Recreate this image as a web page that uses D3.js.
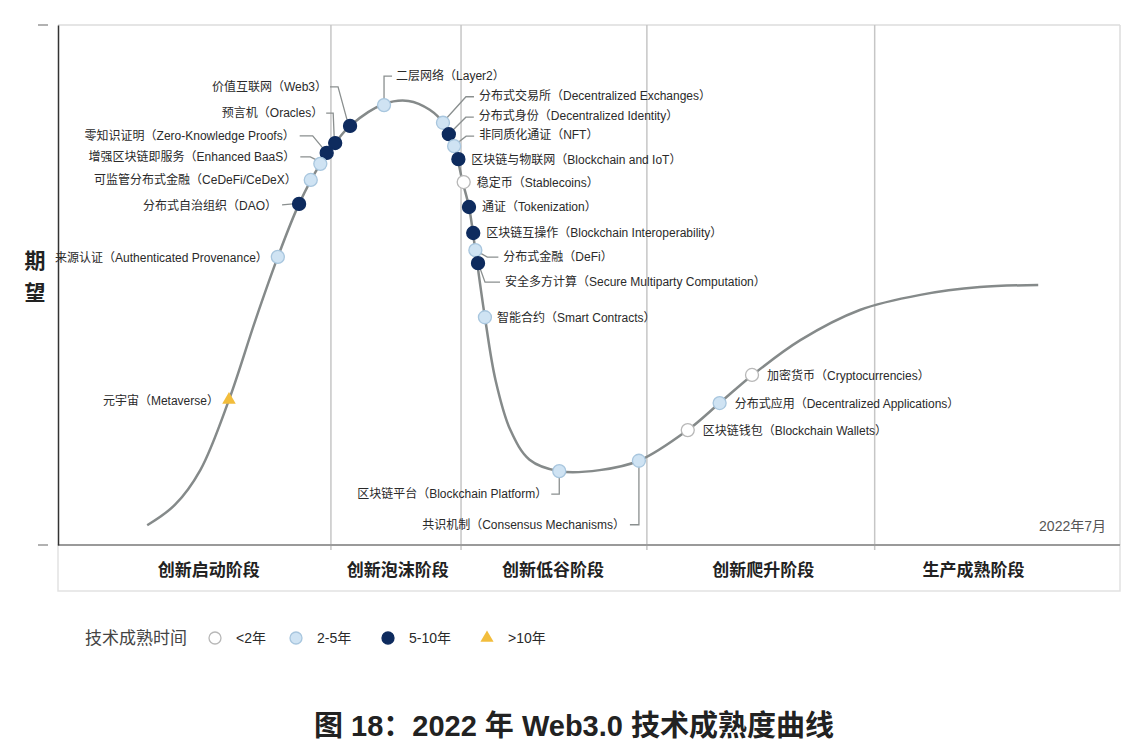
<!DOCTYPE html>
<html>
<head>
<meta charset="utf-8">
<script src="https://cdn.jsdelivr.net/npm/d3@7"></script>
<style>
  body { margin: 0; background: #fff; }
  text { font-family: "Liberation Sans", "Noto Sans CJK SC", sans-serif; }
</style>
</head>
<body>
<svg id="chart" width="1148" height="752"></svg>
<script>
// ---- data ----
const curveX = [8.4, 11.0, 13.4, 16.1, 18.6, 20.7, 22.7, 24.7, 26.1, 27.5, 30.7, 33.0, 35.0, 36.3, 37.3, 38.1, 38.7, 39.3, 40.2, 41.2, 42.6, 44.4, 47.2, 51.0, 54.7, 59.3, 62.3, 65.4, 69.9, 75.5, 81.2, 86.8, 92.3];
const curveY = [3.8, 7.7, 14.4, 27.9, 43.3, 55.4, 65.6, 73.3, 77.3, 80.6, 84.8, 85.4, 83.7, 81.1, 76.7, 69.8, 65.0, 56.7, 43.8, 31.7, 22.1, 16.4, 14.2, 14.4, 16.2, 22.1, 27.3, 32.7, 39.4, 45.2, 48.1, 49.6, 50.0];

const techNames = [
  "价值互联网（Web3）", "预言机（Oracles）", "零知识证明（Zero-Knowledge Proofs）",
  "增强区块链即服务（Enhanced BaaS）", "可监管分布式金融（CeDeFi/CeDeX）", "分布式自治组织（DAO）",
  "来源认证（Authenticated Provenance）", "元宇宙（Metaverse）", "二层网络（Layer2）",
  "分布式交易所（Decentralized Exchanges）", "分布式身份（Decentralized Identity）", "非同质化通证（NFT）",
  "区块链与物联网（Blockchain and IoT）", "稳定币（Stablecoins）", "通证（Tokenization）",
  "区块链互操作（Blockchain Interoperability）", "分布式金融（DeFi）", "安全多方计算（Secure Multiparty Computation）",
  "智能合约（Smart Contracts）", "区块链平台（Blockchain Platform）", "共识机制（Consensus Mechanisms）",
  "区块链钱包（Blockchain Wallets）", "分布式应用（Decentralized Applications）", "加密货币（Cryptocurrencies）"
];
const techX = [27.5, 26.1, 25.3, 24.7, 23.8, 22.7, 20.7, 16.1, 30.7, 36.25, 36.8, 37.3, 37.7, 38.2, 38.7, 39.1, 39.3, 39.55, 40.2, 47.2, 54.7, 59.3, 62.3, 65.35];
const techY = [80.6, 77.3, 75.4, 73.3, 70.2, 65.6, 55.4, 27.9, 84.6, 81.2, 79.0, 76.7, 74.2, 69.8, 65.0, 60.0, 56.7, 54.2, 43.8, 14.2, 16.2, 22.1, 27.3, 32.7];
// 0: <2年, 1: 2-5年, 2: 5-10年, 3: >10年
const techGroup = [2, 2, 2, 1, 1, 2, 1, 3, 1, 1, 2, 1, 2, 0, 2, 2, 1, 2, 1, 1, 1, 0, 1, 0];

const groupLabels = ["<2年", "2-5年", "5-10年", ">10年"];
const phaseNames = ["创新启动阶段", "创新泡沫阶段", "创新低谷阶段", "创新爬升阶段", "生产成熟阶段"];
const phaseBounds = [25.7, 37.95, 55.45, 76.9];
const phaseLabelX = [14.2, 32.0, 46.6, 66.4, 86.2];

// ---- label layout (pixel offsets from the marker) ----
const labelLayout = [
  { dx: -23, dy: -39, anchor: "end", leader: [[-3, -6], [-12, -39], [-20, -39]] },
  { dx: -12, dy: -30, anchor: "end", leader: [[-1, -6], [-2, -30], [-9, -30]] },
  { dx: -32, dy: -17, anchor: "end", leader: [[-4, -5], [-14, -17], [-27, -17]] },
  { dx: -25, dy: -7, anchor: "end", leader: [[-4, -4], [-10, -7], [-20, -7]] },
  { dx: -14, dy: 0, anchor: "end" },
  { dx: -22, dy: 2, anchor: "end", leader: [[-6, 0], [-17, 1]] },
  { dx: -10, dy: 1, anchor: "end" },
  { dx: -10, dy: 1, anchor: "end" },
  { dx: 12, dy: -29, anchor: "start", leader: [[0, -6], [0, -29], [8, -29]] },
  { dx: 36, dy: -27, anchor: "start", leader: [[4, -5], [23, -26], [31, -26]] },
  { dx: 30, dy: -18, anchor: "start", leader: [[4, -4], [17, -17], [25, -17]] },
  { dx: 25, dy: -11, anchor: "start", leader: [[3, -3], [12, -10], [20, -10]] },
  { dx: 13, dy: 1, anchor: "start" },
  { dx: 13, dy: 1, anchor: "start" },
  { dx: 13, dy: 0, anchor: "start" },
  { dx: 13, dy: 0, anchor: "start" },
  { dx: 28, dy: 7, anchor: "start", leader: [[5, 3], [12, 7], [23, 7]] },
  { dx: 27, dy: 19, anchor: "start", leader: [[2, 5], [7, 19], [22, 19]] },
  { dx: 12, dy: 1, anchor: "start" },
  { dx: -12, dy: 23, anchor: "end", leader: [[0, 6], [0, 23], [-8, 23]] },
  { dx: -14, dy: 64, anchor: "end", leader: [[0, 6], [0, 64], [-9, 64]] },
  { dx: 15, dy: 1, anchor: "start" },
  { dx: 15, dy: 1, anchor: "start" },
  { dx: 15, dy: 1, anchor: "start" }
];

const fills = ["#ffffff", "#cfe3f3", "#0e2b5e", "#f2bd3c"];
const strokes = ["#b8b8b8", "#a8c6de", "#0e2b5e", "#f2bd3c"];

const svg = d3.select("#chart");
const pLeft = 58, pRight = 1120, pTop = 25, pBottom = 545;

const x = d3.scaleLinear().domain([0, 100]).range([pLeft, pRight]);
const y = d3.scaleLinear().domain([0, 100]).range([pBottom, pTop]);

// --- frame ---
svg.append("rect")
  .attr("x", pLeft).attr("y", pBottom)
  .attr("width", pRight - pLeft).attr("height", 46)
  .attr("fill", "none").attr("stroke", "#e2e2e2").attr("stroke-width", 1.5);

svg.append("line")
  .attr("x1", pLeft).attr("x2", pRight).attr("y1", pTop).attr("y2", pTop)
  .attr("stroke", "#dcdcdc").attr("stroke-width", 1.5);
svg.append("line")
  .attr("x1", pRight).attr("x2", pRight).attr("y1", pTop).attr("y2", pBottom)
  .attr("stroke", "#dcdcdc").attr("stroke-width", 1.5);

// phase dividers
svg.append("g").selectAll("line")
  .data(phaseBounds)
  .join("line")
  .attr("x1", d => x(d)).attr("x2", d => x(d))
  .attr("y1", pTop).attr("y2", pBottom + 5)
  .attr("stroke", "#c6c6c6").attr("stroke-width", 1.5);

// bottom axis line
svg.append("line")
  .attr("x1", pLeft).attr("x2", pRight).attr("y1", pBottom).attr("y2", pBottom)
  .attr("stroke", "#9a9a9a").attr("stroke-width", 2);

// left axis
const yAxis = d3.axisLeft(y).tickValues([0, 100]).tickSize(0).tickFormat("");
svg.append("g")
  .attr("transform", `translate(${pLeft},0)`)
  .call(yAxis)
  .call(g => g.select(".domain").attr("stroke", "#333").attr("stroke-width", 1.5));
svg.append("g").selectAll("line")
  .data([0, 100])
  .join("line")
  .attr("x1", 38).attr("x2", 48)
  .attr("y1", d => y(d)).attr("y2", d => y(d))
  .attr("stroke", "#999").attr("stroke-width", 1.5);

// y label
svg.append("text").attr("x", 35).attr("y", 268)
  .attr("text-anchor", "middle").attr("font-size", 21).attr("font-weight", "bold")
  .attr("fill", "#222").text("期");
svg.append("text").attr("x", 35).attr("y", 300)
  .attr("text-anchor", "middle").attr("font-size", 21).attr("font-weight", "bold")
  .attr("fill", "#222").text("望");

// phase labels
svg.append("g").selectAll("text")
  .data(phaseNames)
  .join("text")
  .attr("x", (d, i) => x(phaseLabelX[i]))
  .attr("y", 576)
  .attr("text-anchor", "middle")
  .attr("font-size", 17).attr("font-weight", "bold").attr("fill", "#222")
  .text(d => d);

svg.append("text").attr("x", 1106).attr("y", 531)
  .attr("text-anchor", "end").attr("font-size", 14).attr("fill", "#555")
  .text("2022年7月");

// --- curve ---
const curvePts = curveX.map((d, i) => [d, curveY[i]]);
svg.append("path")
  .datum(curvePts)
  .attr("fill", "none")
  .attr("stroke", "#858a8a")
  .attr("stroke-width", 2.5)
  .attr("d", d3.line()
    .x(d => x(d[0]))
    .y(d => y(d[1]))
    .curve(d3.curveCatmullRom.alpha(0.5)));

// --- leaders, markers, labels ---
const tech = techNames.map((n, i) => ({
  name: n, px: x(techX[i]), py: y(techY[i]), g: techGroup[i], lay: labelLayout[i]
}));

svg.append("g").selectAll("path")
  .data(tech.filter(d => d.lay.leader))
  .join("path")
  .attr("fill", "none").attr("stroke", "#8a8f8f").attr("stroke-width", 1.3)
  .attr("d", d => d3.line()(d.lay.leader.map(p => [d.px + p[0], d.py + p[1]])));

const marks = svg.append("g");
marks.selectAll("circle")
  .data(tech.filter(d => d.g < 3))
  .join("circle")
  .attr("cx", d => d.px).attr("cy", d => d.py).attr("r", 6.5)
  .attr("fill", d => fills[d.g]).attr("stroke", d => strokes[d.g]).attr("stroke-width", 1.3);
marks.selectAll("path")
  .data(tech.filter(d => d.g === 3))
  .join("path")
  .attr("transform", d => `translate(${d.px},${d.py})`)
  .attr("d", d3.symbol(d3.symbolTriangle, 80))
  .attr("fill", fills[3]);

svg.append("g").selectAll("text")
  .data(tech)
  .join("text")
  .attr("x", d => d.px + d.lay.dx)
  .attr("y", d => d.py + d.lay.dy)
  .attr("dy", "0.35em")
  .attr("text-anchor", d => d.lay.anchor)
  .attr("font-size", 12).attr("fill", "#2a2a2a")
  .text(d => d.name);

// --- legend ---
const lg = svg.append("g").attr("transform", "translate(0,638)");
lg.append("text").attr("x", 85).attr("y", 0).attr("dy", "0.35em")
  .attr("font-size", 17).attr("fill", "#444").text("技术成熟时间");
const legendX = [215, 296, 388, 487];
groupLabels.forEach((lab, i) => {
  if (i < 3) {
    lg.append("circle").attr("cx", legendX[i]).attr("cy", 0).attr("r", 6)
      .attr("fill", fills[i]).attr("stroke", strokes[i]).attr("stroke-width", 1.3);
  } else {
    lg.append("path").attr("transform", `translate(${legendX[i]},0)`)
      .attr("d", d3.symbol(d3.symbolTriangle, 75)).attr("fill", fills[i]);
  }
  lg.append("text").attr("x", legendX[i] + 21).attr("y", 0).attr("dy", "0.35em")
    .attr("font-size", 14).attr("fill", "#2a2a2a").text(lab);
});

// --- title ---
svg.append("text").attr("x", 574).attr("y", 736)
  .attr("text-anchor", "middle").attr("font-size", 29).attr("font-weight", "bold")
  .attr("fill", "#222").text("图 18：2022 年 Web3.0 技术成熟度曲线");
</script>
</body>
</html>
